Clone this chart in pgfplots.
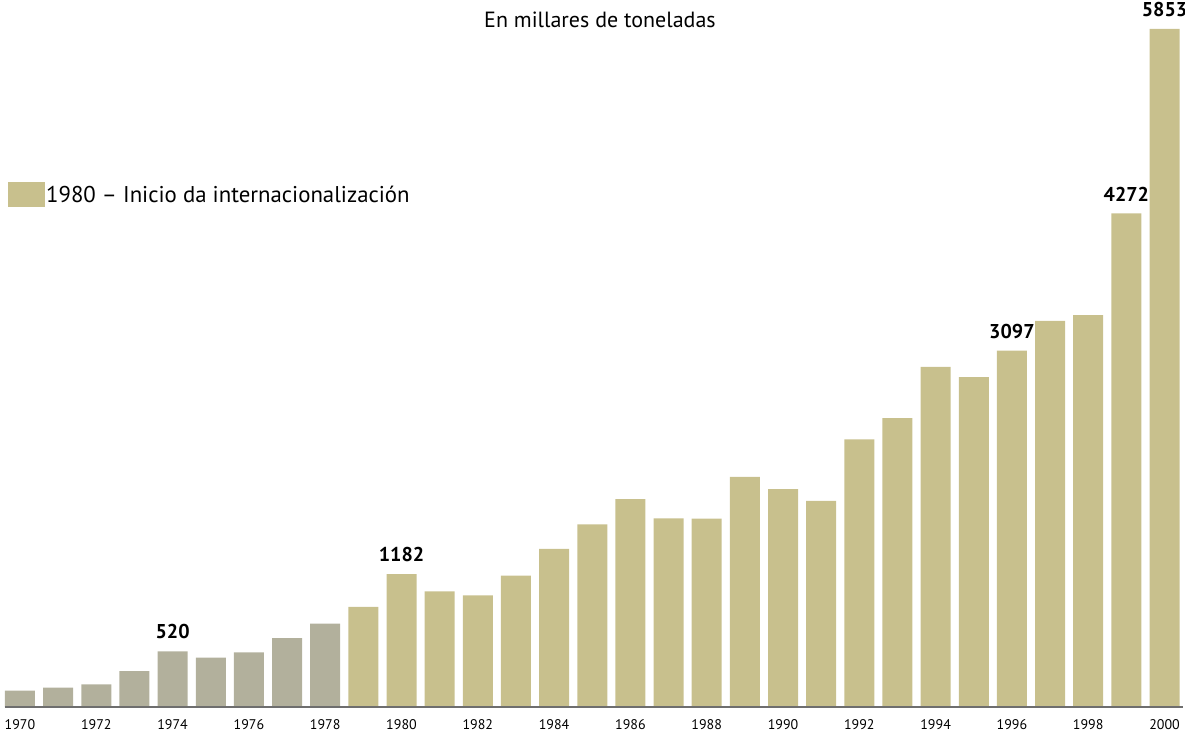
\documentclass[border=0pt]{standalone}
\usepackage{pgfplots}
\pgfplotsset{compat=1.18}
\usepackage{fontspec}
\setmainfont{PT Sans}
\definecolor{khaki}{RGB}{200,192,141}
\definecolor{greybar}{RGB}{178,176,156}
\definecolor{axisgrey}{RGB}{110,110,110}
\begin{document}
\begin{tikzpicture}
\begin{axis}[
 name=ax,
 scale only axis, width=1185pt, height=707.3pt,
 xmin=1969.4758, xmax=2000.537, ymin=40.3, ymax=6100.6,
 axis line style={draw=none},
 ytick=\empty,
 xtick={1970,1972,...,2000},
 major tick length=0pt,
 /pgf/number format/1000 sep={},
 /pgf/number format/assume math mode=true,
 xticklabel style={anchor=center, yshift=-17pt, font=\fontsize{14}{14}\selectfont},
 ybar, bar width=30pt, bar shift=0pt,
 legend style={draw=none, fill=none, inner sep=0pt, at={(rel axis cs:0.00675,0.7427)}, anchor=north west, font=\fontsize{22.8}{24}\selectfont, nodes={inner sep=1pt}},
 legend image code/.code={\fill[khaki] (0pt,-12.5pt) rectangle (37pt,12.5pt);},
]
\addplot[fill=greybar, draw=none, forget plot] coordinates {(1970,183)(1971,208)(1972,237)(1973,351)(1974,520)(1975,465)(1976,512)(1977,634)(1978,757)};
\addplot[fill=khaki, draw=none] coordinates {(1979,900)(1980,1182)(1981,1034)(1982,1000)(1983,1168)(1984,1397)(1985,1608)(1986,1825)(1987,1660)(1988,1656)(1989,2014)(1990,1909)(1991,1810)(1992,2337)(1993,2517)(1994,2957)(1995,2869)(1996,3097)(1997,3352)(1998,3400)(1999,4272)(2000,5853)};
\addlegendentry{\raisebox{-8.8pt}[0pt][0pt]{1980 – Inicio da internacionalización}}
\addplot[draw=none, fill=none, forget plot, nodes near coords, point meta=explicit symbolic, every node near coord/.append style={anchor=south, inner sep=0pt, yshift=12pt, font=\bfseries\fontsize{20}{20}\selectfont, text=black}] coordinates {(1974,520)[520] (1980,1182)[1182] (1996,3097)[3097] (1999,4272)[4272] (2000,5853)[5853]};
\node[anchor=base, font=\fontsize{22}{22}\selectfont] at (rel axis cs:0.5063,0.9614) {En millares de toneladas};
\end{axis}
\draw[axisgrey, line width=2pt] ([xshift=5pt]ax.south west) -- ([xshift=1183pt]ax.south west);
\pgfresetboundingbox
\path[use as bounding box] ([yshift=-23.7pt]ax.south west) rectangle (ax.north east);
\end{tikzpicture}
\end{document}
